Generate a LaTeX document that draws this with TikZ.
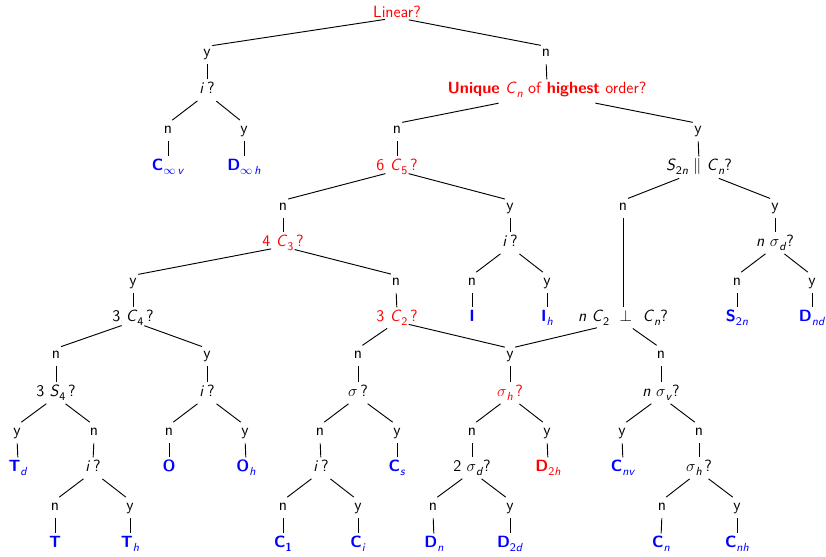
\documentclass[tikz,border=0pt]{standalone}
\newcommand{\lowsub}[1]{\raisebox{-0.5ex}{\fontsize{8.8}{9}\selectfont #1}}
\begin{document}
\begin{tikzpicture}[x=0.75pt,y=-0.75pt,
  font=\sffamily\fontsize{12.2}{14}\selectfont,
  every node/.style={inner sep=1pt, text height=1.5ex, text depth=.25ex},
  qr/.style={text=red},
  res/.style={text=blue},
  resr/.style={text=red},
  dg/.style={draw, line width=0.7pt, shorten <=9pt, shorten >=4pt},
  vt/.style={draw, line width=0.7pt, shorten <=3.5pt, shorten >=3pt}]
\useasboundingbox (0,0) rectangle (826,557);
% row 0-2
\node[qr] (root) at (397,14) {Linear?};
\node (a1) at (207,53) {y};
\node (a2) at (546,53) {n};
\node (qi1) at (207,90) {\textit{i}\,?};
\node[qr] (qU) at (547,90) {\textbf{Unique} \textit{C}\lowsub{\textit{n}} of \textbf{highest} order?};
% row 3-4
\node (b1) at (168,130) {n};
\node (b2) at (244,130) {y};
\node (b3) at (397,130) {n};
\node (b4) at (698,130) {y};
\node[res] (Cinfv) at (168,167) {\textbf{C}\lowsub{$\infty$\,\textit{v}}};
\node[res] (Dinfh) at (244,167) {\textbf{D}\lowsub{$\infty$\,\textit{h}}};
\node[qr] (q6C5) at (397,167) {6 \textit{C}\lowsub{5}\,?};
\node (qS2n) at (699,167) {\textit{S}\lowsub{2\textit{n}} $\parallel$ \textit{C}\lowsub{\textit{n}}?};
% row 5-6
\node (c1) at (283,207) {n};
\node (c2) at (510,207) {y};
\node (c3) at (623,207) {n};
\node (c4) at (775,207) {y};
\node[qr] (q4C3) at (283,243) {4 \textit{C}\lowsub{3}\,?};
\node (qi2) at (510,243) {\textit{i}\,?};
\node (qnsd) at (775,243) {\textit{n} $\sigma$\lowsub{\textit{d}}?};
% row 7-8
\node (d1) at (133,282) {y};
\node (d2) at (396,282) {n};
\node (d3) at (472,282) {n};
\node (d4) at (547,282) {y};
\node (d5) at (737,282) {n};
\node (d6) at (812,282) {y};
\node (q3C4) at (133,318) {3 \textit{C}\lowsub{4}\,?};
\node[qr] (q3C2) at (397,318) {3 \textit{C}\lowsub{2}\,?};
\node[res] (rI) at (472,318) {\textbf{I}};
\node[res] (rIh) at (547,318) {\textbf{I}\lowsub{\textit{h}}};
\node (qperp) at (623,318) {\textit{n} \textit{C}\lowsub{2}\ \ $\perp$\ \ \textit{C}\lowsub{\textit{n}}?};
\node[res] (rS2n) at (737,318) {\textbf{S}\lowsub{2\textit{n}}};
\node[res] (rDnd) at (812,318) {\textbf{D}\lowsub{\textit{nd}}};
% row 9-10
\node (e1) at (56,355) {n};
\node (e2) at (207,355) {y};
\node (e3) at (358,355) {n};
\node (e4) at (510,355) {y};
\node (e5) at (661,355) {n};
\node (q3S4) at (56,393) {3 \textit{S}\lowsub{4}\,?};
\node (qi3) at (207,393) {\textit{i}\,?};
\node (qsig) at (358,393) {$\sigma$\,?};
\node[qr] (qsh1) at (510,393) {$\sigma$\lowsub{\textit{h}}\,?};
\node (qnsv) at (661,393) {\textit{n} $\sigma$\lowsub{\textit{v}}?};
% row 11-12
\node (f1) at (17,432) {y};
\node (f2) at (94,432) {n};
\node (f3) at (169,432) {n};
\node (f4) at (245,432) {y};
\node (f5) at (320,432) {n};
\node (f6) at (397,432) {y};
\node (f7) at (472,432) {n};
\node (f8) at (547,432) {y};
\node (f9) at (622,432) {y};
\node (f10) at (699,432) {n};
\node[res] (rTd) at (18,468) {\textbf{T}\lowsub{\textit{d}}};
\node (qi4) at (93,468) {\textit{i}\,?};
\node[res] (rO) at (169,468) {\textbf{O}};
\node[res] (rOh) at (246,468) {\textbf{O}\lowsub{\textit{h}}};
\node (qi5) at (321,468) {\textit{i}\,?};
\node[res] (rCs) at (397,468) {\textbf{C}\lowsub{\textit{s}}};
\node (q2sd) at (472,468) {2 $\sigma$\lowsub{\textit{d}}?};
\node[resr] (rD2h) at (548,468) {\textbf{D}\lowsub{2\textit{h}}};
\node[res] (rCnv) at (623,468) {\textbf{C}\lowsub{\textit{nv}}};
\node (qsh2) at (699,468) {$\sigma$\lowsub{\textit{h}}\,?};
% row 13-14
\node (g1) at (55,507) {n};
\node (g2) at (130,507) {y};
\node (g3) at (283,507) {n};
\node (g4) at (358,507) {y};
\node (g5) at (433,507) {n};
\node (g6) at (510,507) {y};
\node (g7) at (662,507) {n};
\node (g8) at (737,507) {y};
\node[res] (rT) at (55,544) {\textbf{T}};
\node[res] (rTh) at (130,544) {\textbf{T}\lowsub{\textit{h}}};
\node[res] (rC1) at (283,544) {\textbf{C}\lowsub{\textbf{1}}};
\node[res] (rCi) at (358,544) {\textbf{C}\lowsub{\textit{i}}};
\node[res] (rDn) at (434,544) {\textbf{D}\lowsub{\textit{n}}};
\node[res] (rD2d) at (510,544) {\textbf{D}\lowsub{2\textit{d}}};
\node[res] (rCn) at (661,544) {\textbf{C}\lowsub{\textit{n}}};
\node[res] (rCnh) at (737,544) {\textbf{C}\lowsub{\textit{nh}}};
% diagonal edges (question -> answer)
\foreach \p/\c in {root/a1,root/a2,qi1/b1,qi1/b2,q6C5/c1,q6C5/c2,
  q4C3/d1,q4C3/d2,qi2/d3,qi2/d4,qnsd/d5,qnsd/d6,
  q3C4/e1,q3C4/e2,q3C2/e3,q3C2/e4,qperp/e5,
  q3S4/f1,q3S4/f2,qi3/f3,qi3/f4,qsig/f5,qsig/f6,qsh1/f7,qsh1/f8,qnsv/f9,qnsv/f10,
  qi4/g1,qi4/g2,qi5/g3,qi5/g4,q2sd/g5,q2sd/g6,qsh2/g7,qsh2/g8}
  \draw[dg] (\p.base) -- (\c.north);
\draw[dg, shorten <=37pt] (qU.base) -- (b3.north);
\draw[dg, shorten <=37pt] (qU.base) -- (b4.north);
\draw[dg, shorten <=16pt] (qS2n.base) -- (c3.north);
\draw[dg, shorten <=16pt] (qS2n.base) -- (c4.north);
\draw[dg, shorten <=20pt] (qperp.base) -- (e4.north);
% vertical edges (answer -> next)
\foreach \a/\b in {a1/qi1,a2/qU,b1/Cinfv,b2/Dinfh,b3/q6C5,b4/qS2n,
  c1/q4C3,c2/qi2,c3/qperp,c4/qnsd,
  d1/q3C4,d2/q3C2,d3/rI,d4/rIh,d5/rS2n,d6/rDnd,
  e1/q3S4,e2/qi3,e3/qsig,e4/qsh1,e5/qnsv,
  f1/rTd,f2/qi4,f3/rO,f4/rOh,f5/qi5,f6/rCs,f7/q2sd,f8/rD2h,f9/rCnv,f10/qsh2,
  g1/rT,g2/rTh,g3/rC1,g4/rCi,g5/rDn,g6/rD2d,g7/rCn,g8/rCnh}
  \draw[vt] (\a.south) -- (\b.north);
\end{tikzpicture}
\end{document}
